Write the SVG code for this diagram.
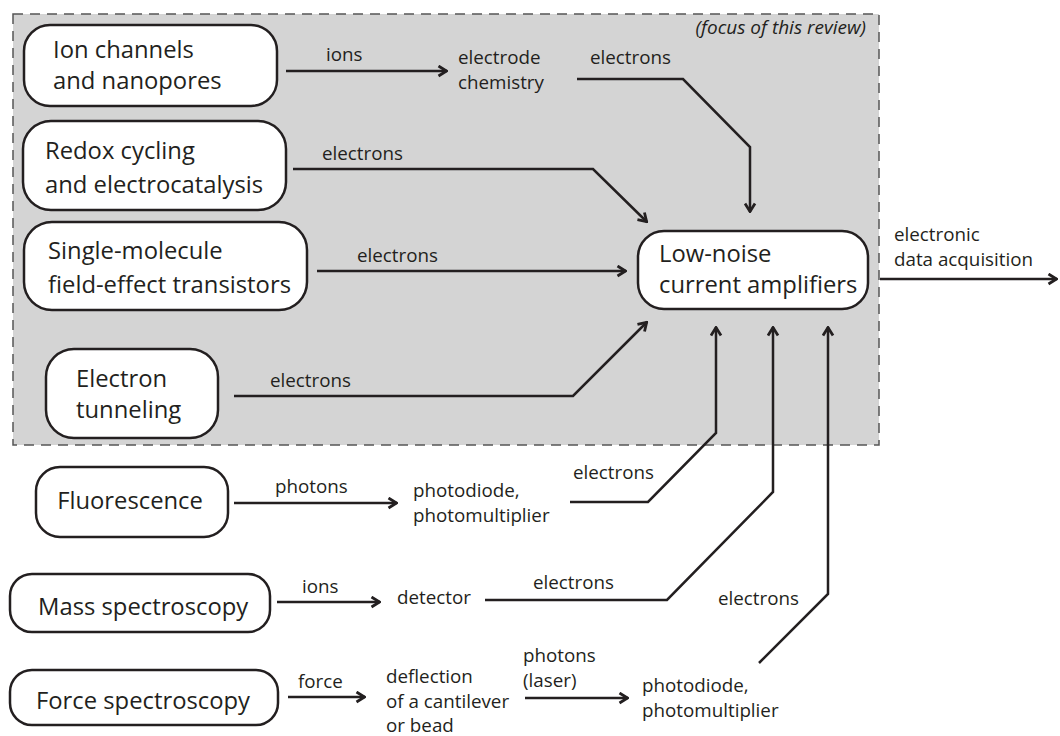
<svg xmlns="http://www.w3.org/2000/svg" width="1060" height="736" viewBox="0 0 1060 736">
<style>
.box{fill:#fff;stroke:#231f20;stroke-width:2.5}
.nt{font-family:"Open Sans","Liberation Sans",sans-serif;font-size:23.8px;fill:#231f20}
.lb{font-family:"Open Sans","Liberation Sans",sans-serif;font-size:18.8px;fill:#231f20}
.cn{fill:none;stroke:#231f20;stroke-width:2.5;marker-end:url(#ah)}
</style>
<defs>
<marker id="ah" viewBox="0 0 11 13" refX="10" refY="6.5" markerWidth="11" markerHeight="13" markerUnits="userSpaceOnUse" orient="auto">
<path d="M1.5,1.5 L9.5,6.5 L1.5,11.5" fill="none" stroke="#231f20" stroke-width="2.8"/>
</marker>
</defs>
<rect width="1060" height="736" fill="#fff"/>
<g id="focus-region">
<rect x="13" y="14" width="866" height="431" fill="#d4d4d4" stroke="#555" stroke-width="1.5" stroke-dasharray="10,7"/>
<text x="866" y="34" text-anchor="end" class="lb" style="font-size:19px;font-style:italic">(focus of this review)</text>
</g>
<g id="connectors">
<path class="cn" d="M286,71 H447"/>
<path class="cn" d="M577,79 H683 L750,147 V212"/>
<path class="cn" d="M293,169 H593 L647,222"/>
<path class="cn" d="M317,271 H626"/>
<path class="cn" d="M234,396 H573 L647,322"/>
<path class="cn" d="M880,279 H1057"/>
<path class="cn" d="M234,503 H397"/>
<path class="cn" d="M570,502 H648 L716,433 V327"/>
<path class="cn" d="M277,602 H380"/>
<path class="cn" d="M485,600 H667 L773,492 V327"/>
<path class="cn" d="M288,697 H365"/>
<path class="cn" d="M525,698 H628"/>
<path class="cn" d="M759,663 L828,594 V327"/>
<text class="lb" x="326" y="61">ions</text>
<text class="lb" x="590" y="64">electrons</text>
<text class="lb" x="322" y="160">electrons</text>
<text class="lb" x="357" y="262">electrons</text>
<text class="lb" x="270" y="387">electrons</text>
<text class="lb" x="894" y="241">electronic</text>
<text class="lb" x="894" y="266">data acquisition</text>
<text class="lb" x="275" y="493">photons</text>
<text class="lb" x="573" y="479">electrons</text>
<text class="lb" x="302" y="593">ions</text>
<text class="lb" x="533" y="589">electrons</text>
<text class="lb" x="718" y="605">electrons</text>
<text class="lb" x="298" y="688">force</text>
<text class="lb" x="523" y="662">photons</text>
<text class="lb" x="523" y="687">(laser)</text>
</g>
<g id="ion-channels">
<rect class="box" x="24" y="25" width="253" height="81" rx="26"/>
<text class="nt" x="53" y="58">Ion channels</text>
<text class="nt" x="53" y="89">and nanopores</text>
</g>
<g id="redox">
<rect class="box" x="23" y="121" width="263" height="89" rx="28"/>
<text class="nt" x="45" y="159">Redox cycling</text>
<text class="nt" x="45" y="193">and electrocatalysis</text>
</g>
<g id="single-molecule">
<rect class="box" x="24" y="222" width="283" height="88" rx="28"/>
<text class="nt" x="48" y="259">Single-molecule</text>
<text class="nt" x="48" y="293">field-effect transistors</text>
</g>
<g id="tunneling">
<rect class="box" x="46" y="349" width="172" height="89" rx="28"/>
<text class="nt" x="76" y="387">Electron</text>
<text class="nt" x="76" y="418">tunneling</text>
</g>
<g id="amplifiers">
<rect class="box" x="638" y="231" width="230" height="78" rx="26"/>
<text class="nt" x="659" y="262">Low-noise</text>
<text class="nt" x="659" y="293">current amplifiers</text>
</g>
<g id="electrode-chemistry">
<text class="lb" x="458" y="64">electrode</text>
<text class="lb" x="458" y="89">chemistry</text>
</g>
<g id="fluorescence">
<rect class="box" x="36" y="467" width="192" height="70" rx="24"/>
<text class="nt" x="130" y="509" text-anchor="middle">Fluorescence</text>
</g>
<g id="photodiode-1">
<text class="lb" x="413" y="497">photodiode,</text>
<text class="lb" x="413" y="522">photomultiplier</text>
</g>
<g id="mass-spec">
<rect class="box" x="10" y="574" width="260" height="58" rx="22"/>
<text class="nt" x="38" y="615">Mass spectroscopy</text>
</g>
<g id="detector">
<text class="lb" x="397" y="604">detector</text>
</g>
<g id="force-spec">
<rect class="box" x="10" y="670" width="268" height="55" rx="22"/>
<text class="nt" x="36" y="709">Force spectroscopy</text>
</g>
<g id="deflection">
<text class="lb" x="386" y="683">deflection</text>
<text class="lb" x="386" y="708">of a cantilever</text>
<text class="lb" x="386" y="732">or bead</text>
</g>
<g id="photodiode-2">
<text class="lb" x="642" y="692">photodiode,</text>
<text class="lb" x="642" y="717">photomultiplier</text>
</g>
</svg>
